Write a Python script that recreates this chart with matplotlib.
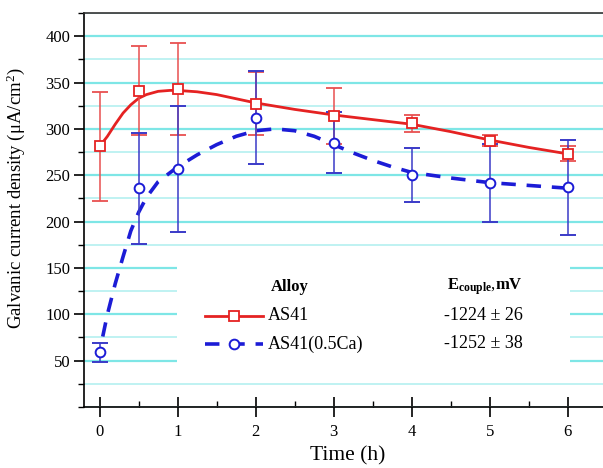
import matplotlib
matplotlib.use("Agg")
import matplotlib.pyplot as plt
from matplotlib.patches import Rectangle
from matplotlib.lines import Line2D
from matplotlib.ticker import MultipleLocator

plt.rcParams['font.family'] = ['Liberation Serif', 'DejaVu Serif']
plt.rcParams['mathtext.fontset'] = 'custom'
plt.rcParams['mathtext.rm'] = 'Liberation Serif'
plt.rcParams['mathtext.it'] = 'Liberation Serif:italic'
plt.rcParams['mathtext.bf'] = 'Liberation Serif:bold'

# measured points
time_h = [0, 0.5, 1, 2, 3, 4, 5, 6]
as41_mean = [281, 341, 343, 327, 314, 306, 287, 273]
as41_err = [59, 48, 50, 34, 30, 9, 6, 8]
ca_mean = [59, 236, 257, 312, 285, 250, 242, 237]
ca_err = [10.5, 60, 68, 50, 33, 29, 42, 51]

# fitted curves
as41_fit_t = [0, 0.1, 0.2, 0.3, 0.4, 0.5, 0.6, 0.75, 0.9, 1.0, 1.25, 1.5, 2.0, 2.5, 3.0, 3.5, 4.0, 4.5, 5.0, 5.5, 6.0]
as41_fit_y = [281, 292, 305, 317, 326, 333, 337, 340.5, 341.5, 341.5, 340, 337, 328, 321, 315, 310, 305, 297, 288, 280, 273]
ca_fit_t = [0.04, 0.1, 0.2, 0.3, 0.4, 0.5, 0.6, 0.75, 1.0, 1.25, 1.5, 1.75, 2.0, 2.25, 2.5, 2.75, 3.0, 3.25, 3.5, 3.75, 4.0, 4.5, 5.0, 5.5, 6.0]
ca_fit_y = [76, 100, 133, 162, 190, 210, 226, 243, 259, 272, 283, 292, 298, 300, 298, 292, 283, 274, 266, 259, 253, 247, 242, 239, 236]

legend_alloys = ['AS41', 'AS41(0.5Ca)']
legend_ecouple = ['-1224 \u00b1 26', '-1252 \u00b1 38']

red = '#e52222'
red_err = '#e85050'
blue = '#1c1cd6'
blue_err = '#3a3ac8'
grid_major = '#7ee6e6'
grid_minor = '#bff2f2'

fig = plt.figure(figsize=(6.03, 4.68), dpi=100)
ax = fig.add_axes([84/603, 61/468, 519/603, 394/468])

ax.set_xlim(-0.2, 6.45)
ax.set_ylim(0, 425)

ax.yaxis.set_major_locator(MultipleLocator(50))
ax.yaxis.set_minor_locator(MultipleLocator(25))
ax.xaxis.set_major_locator(MultipleLocator(1))
ax.xaxis.set_minor_locator(MultipleLocator(0.5))
ax.set_yticks([50, 100, 150, 200, 250, 300, 350, 400])

ax.grid(axis='y', which='major', color=grid_major, lw=1.6, zorder=0)
ax.grid(axis='y', which='minor', color=grid_minor, lw=1.4, zorder=0)
ax.set_axisbelow(True)

ax.spines['right'].set_visible(False)
ax.spines['top'].set_color('#333333')
ax.spines['top'].set_linewidth(1.2)
ax.spines['left'].set_linewidth(1.2)
ax.spines['bottom'].set_linewidth(1.2)

ax.tick_params(axis='y', which='major', direction='out', length=7, width=1.2, labelsize=12, pad=3)
ax.tick_params(axis='y', which='minor', direction='out', length=4, width=1.0)
ax.tick_params(axis='x', which='major', direction='inout', length=15, width=1.2, labelsize=12, pad=5)
ax.tick_params(axis='x', which='minor', direction='in', length=4, width=1.0)

# legend background box
ax.add_patch(Rectangle((0.179, 0.074), 0.757, 0.319, transform=ax.transAxes,
                       facecolor='white', edgecolor='none', zorder=1))

# fitted curves
ax.plot(as41_fit_t, as41_fit_y, color=red, lw=2.0, zorder=3)
ax.plot(ca_fit_t, ca_fit_y, color=blue, lw=2.6, dashes=(4, 3), zorder=3)

# points with error bars
ax.errorbar(time_h, as41_mean, yerr=as41_err, fmt='s', color=red_err, mfc='white',
            mec=red, ms=7, mew=1.3, ecolor=red_err, elinewidth=1.1, capsize=6, capthick=1.1, zorder=4)
ax.errorbar(time_h, ca_mean, yerr=ca_err, fmt='o', color=blue_err, mfc='white',
            mec=blue, ms=7, mew=1.4, ecolor=blue_err, elinewidth=1.1, capsize=6, capthick=1.1, zorder=4)

ax.set_xlabel('Time (h)', fontsize=15.5)
ax.xaxis.set_label_coords(0.509, -0.1)
ax.set_ylabel('Galvanic current density (\u03bcA/cm$^2$)', fontsize=13.5)
ax.yaxis.set_label_coords(-0.11, 0.53)

# legend content
T = ax.transAxes
ax.text(0.397, 0.305, 'Alloy', transform=T, fontsize=12, fontweight='bold', ha='center', va='center', zorder=5)
ax.text(0.773, 0.305, r'$\mathbf{E_{couple}}$,$\mathbf{mV}$', transform=T, fontsize=12, ha='center', va='center', zorder=5)
rows_y = [0.231, 0.160]
ax.add_line(Line2D([0.233, 0.345], [rows_y[0]] * 2, transform=T, color=red, lw=2.0, zorder=5))
ax.add_line(Line2D([0.289], [rows_y[0]], transform=T, marker='s', ms=7, mfc='white', mec=red, mew=1.3, zorder=6))
ax.add_line(Line2D([0.233, 0.345], [rows_y[1]] * 2, transform=T, color=blue, lw=2.6, dashes=(4, 3), zorder=5))
ax.add_line(Line2D([0.289], [rows_y[1]], transform=T, marker='o', ms=7, mfc='white', mec=blue, mew=1.4, zorder=6))
for yy, name, ev in zip(rows_y, legend_alloys, legend_ecouple):
    ax.text(0.355, yy, name, transform=T, fontsize=13, ha='left', va='center', zorder=5)
    ax.text(0.77, yy, ev, transform=T, fontsize=13, ha='center', va='center', zorder=5)

fig.savefig('out.png', dpi=100)
